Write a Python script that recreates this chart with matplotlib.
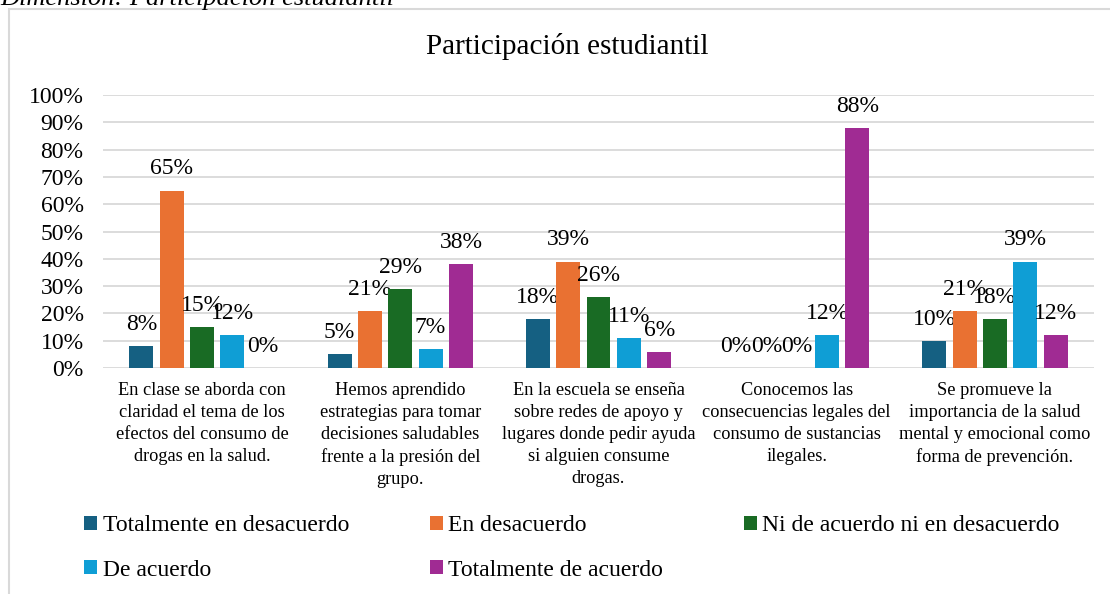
import numpy as np
import matplotlib
matplotlib.use('Agg')
import matplotlib.pyplot as plt
from matplotlib.patches import Rectangle

plt.rcParams['font.family'] = ['Liberation Serif', 'DejaVu Serif']

categories = ['En clase se aborda con\nclaridad el tema de los\nefectos del consumo de\ndrogas en la salud.',
              'Hemos aprendido\nestrategias para tomar\ndecisiones saludables\nfrente a la presión del\ngrupo.',
              'En la escuela se enseña\nsobre redes de apoyo y\nlugares donde pedir ayuda\nsi alguien consume\ndrogas.',
              'Conocemos las\nconsecuencias legales del\nconsumo de sustancias\nilegales.',
              'Se promueve la\nimportancia de la salud\nmental y emocional como\nforma de prevención.']
series = ['Totalmente en desacuerdo', 'En desacuerdo', 'Ni de acuerdo ni en desacuerdo',
          'De acuerdo', 'Totalmente de acuerdo']
tot_desacuerdo = [8, 5, 18, 0, 10]
en_desacuerdo = [65, 21, 39, 0, 21]
ni_ni = [15, 29, 26, 0, 18]
de_acuerdo = [12, 7, 11, 12, 39]
tot_acuerdo = [0, 38, 6, 88, 12]
colors = ['#156082', '#E97132', '#196B24', '#0F9ED5', '#A02B93']
yticks = list(range(0, 101, 10))

values = [tot_desacuerdo, en_desacuerdo, ni_ni, de_acuerdo, tot_acuerdo]

fig = plt.figure(figsize=(11.1, 5.94), dpi=100)
ax = fig.add_axes([103 / 1110, 226 / 594, 991 / 1110, 273 / 594])

# outer chart frame (partly cut off like the source)
fig.patches.append(Rectangle((9 / 1110, -0.1), 1.2, 1.1 - 9 / 594, transform=fig.transFigure,
                             fill=False, edgecolor='#D9D9D9', linewidth=1.5))
fig.text(0.0, 1 - 5 / 594, 'Dimensión: Participación estudiantil', style='italic', fontsize=19,
         va='baseline', ha='left')

x = np.arange(len(categories))
step = 0.153
width = 0.121
handles = []
for i, (name, vals) in enumerate(zip(series, values)):
    pos = x + (i - 2) * step
    b = ax.bar(pos, vals, width, color=colors[i], label=name, zorder=3)
    handles.append(b)
    for p, v in zip(pos, vals):
        ax.annotate(f'{v}%', (p, v), xytext=(0, 8), textcoords='offset points',
                    ha='center', va='bottom', fontsize=17)

ax.set_xlim(-0.5, len(categories) - 0.5)
ax.set_ylim(0, 100)
ax.set_yticks(yticks)
ax.set_yticklabels([f'{t}%' for t in yticks], fontsize=17)
ax.set_xticks(x)
ax.set_xticklabels(categories, fontsize=13.2, linespacing=1.38)
ax.tick_params(axis='both', length=0)
ax.tick_params(axis='y', pad=14)
ax.tick_params(axis='x', pad=10)
ax.grid(axis='y', color='#D9D9D9', linewidth=1.3, zorder=0)
for s in ax.spines.values():
    s.set_visible(False)

fig.text(567 / 1110, 1 - 47 / 594, 'Participación estudiantil', fontsize=21, ha='center', va='center')

# legend: 3 columns, filled column-wise so rows read like the original
order = [0, 3, 1, 4, 2]
fig.legend([handles[k] for k in order], [series[k] for k in order], ncol=3,
           loc='upper left', bbox_to_anchor=(84 / 1110, 1 - 515 / 594), frameon=False,
           fontsize=17, handlelength=0.55, handleheight=0.55, handletextpad=0.25,
           columnspacing=3.4, labelspacing=1.0, borderpad=0, borderaxespad=0)

fig.savefig('out.png', dpi=100)
